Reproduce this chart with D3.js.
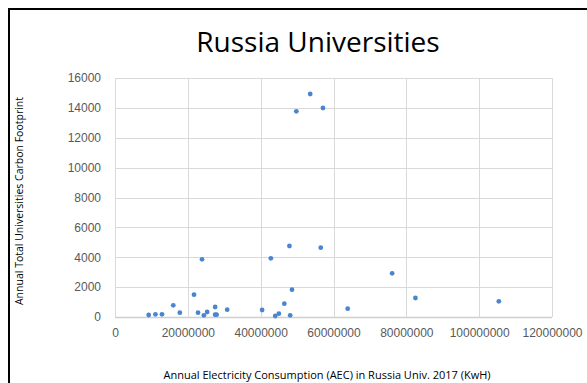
<!DOCTYPE html>
<html>
<head>
<meta charset="utf-8">
<script src="https://cdn.jsdelivr.net/npm/d3@7"></script>
<style>
  body { margin: 0; background: #fff; }
  svg { display: block; }
</style>
</head>
<body>
<div id="chart"></div>
<script>
// electricity consumption (kWh) and carbon footprint for each university
var aec = [9250000, 11100000, 12900000, 16000000, 17800000, 21700000, 22800000, 23900000,
    24400000, 25300000, 27500000, 27500000, 27900000, 30800000, 40400000, 42800000,
    44000000, 45000000, 46500000, 47900000, 48100000, 48600000, 49800000, 53600000,
    56500000, 57100000, 63900000, 76100000, 82500000, 105400000];
var footprint = [134, 180, 180, 783, 288, 1493, 288, 3860,
    113, 335, 670, 155, 155, 490, 469, 3930,
    67, 221, 890, 4753, 114, 1828, 13770, 14930,
    4640, 13990, 556, 2925, 1272, 1051];
var xTicks = [0, 20000000, 40000000, 60000000, 80000000, 100000000, 120000000];
var yTicks = [0, 2000, 4000, 6000, 8000, 10000, 12000, 14000, 16000];

var points = aec.map(function(d, i) { return { x: d, y: footprint[i] }; });

var width = 587, height = 383;
var margin = { top: 78, right: 35, bottom: 66, left: 115 };

var svg = d3.select("#chart").append("svg")
    .attr("width", width)
    .attr("height", height);

// frame
svg.append("rect")
    .attr("x", 9).attr("y", 9)
    .attr("width", 600).attr("height", 400)
    .attr("fill", "none")
    .attr("stroke", "#000")
    .attr("stroke-width", 2);

var x = d3.scaleLinear()
    .domain([0, 120000000])
    .range([margin.left, width - margin.right]);
var y = d3.scaleLinear()
    .domain([0, 16000])
    .range([height - margin.bottom, margin.top]);

// grid
svg.append("g").selectAll("line")
    .data(yTicks)
    .enter().append("line")
    .attr("x1", x(0)).attr("x2", x(120000000))
    .attr("y1", function(d) { return Math.round(y(d)) + 0.5; })
    .attr("y2", function(d) { return Math.round(y(d)) + 0.5; })
    .attr("stroke", function(d) { return d === 0 ? "#cfcfcf" : "#d9d9d9"; })
    .attr("stroke-width", function(d) { return d === 0 ? 1.5 : 1; });

svg.append("g").selectAll("line")
    .data(xTicks)
    .enter().append("line")
    .attr("x1", function(d) { return Math.round(x(d)) + 0.5; })
    .attr("x2", function(d) { return Math.round(x(d)) + 0.5; })
    .attr("y1", y(0)).attr("y2", y(16000))
    .attr("stroke", "#d9d9d9");

// y axis labels
var yAxis = svg.append("g")
    .attr("transform", "translate(" + (margin.left - 11) + ",0)")
    .call(d3.axisLeft(y).tickValues(yTicks).tickSize(0).tickFormat(d3.format("d")));
yAxis.select(".domain").remove();
yAxis.selectAll("text")
    .attr("fill", "#595959")
    .style("font-family", "'Liberation Sans', Arial, sans-serif")
    .style("font-size", "12px");

// x axis labels
var xAxis = svg.append("g")
    .attr("transform", "translate(0," + (y(0) + 8) + ")")
    .call(d3.axisBottom(x).tickValues(xTicks).tickSize(0).tickFormat(d3.format("d")));
xAxis.select(".domain").remove();
xAxis.selectAll("text")
    .attr("fill", "#595959")
    .style("font-family", "'Liberation Sans', Arial, sans-serif")
    .style("font-size", "12px");

// points
svg.append("g").selectAll("circle")
    .data(points)
    .enter().append("circle")
    .attr("cx", function(d) { return x(d.x); })
    .attr("cy", function(d) { return y(d.y); })
    .attr("r", 2.4)
    .attr("fill", "#4a86cf");

// title
svg.append("text")
    .attr("x", 318)
    .attr("y", 52)
    .attr("text-anchor", "middle")
    .style("font-family", "'Open Sans', sans-serif")
    .style("font-size", "28px")
    .attr("fill", "#000")
    .text("Russia Universities");

// axis titles
svg.append("text")
    .attr("x", 327)
    .attr("y", 379)
    .attr("text-anchor", "middle")
    .style("font-family", "'Open Sans', sans-serif")
    .style("font-size", "11px")
    .attr("fill", "#000")
    .text("Annual Electricity Consumption (AEC)  in Russia Univ. 2017 (KwH)");

svg.append("text")
    .attr("transform", "translate(23,201) rotate(-90)")
    .attr("text-anchor", "middle")
    .style("font-family", "'Open Sans', sans-serif")
    .style("font-size", "10.5px")
    .attr("fill", "#000")
    .text("Annual Total Universities Carbon Footprint");
</script>
</body>
</html>
